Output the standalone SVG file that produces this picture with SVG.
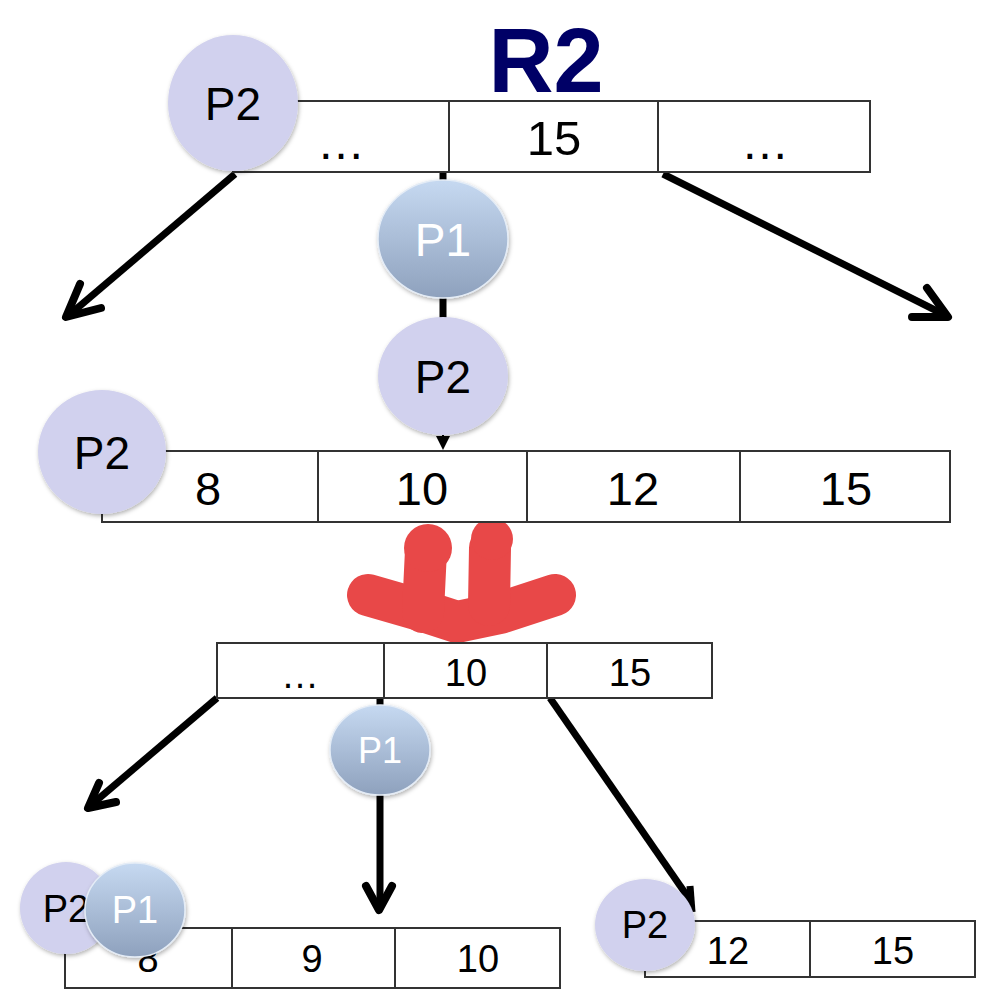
<svg xmlns="http://www.w3.org/2000/svg" width="1000" height="1000" viewBox="0 0 1000 1000">
<defs>
<linearGradient id="gP1" x1="0" y1="0" x2="0" y2="1">
<stop offset="0" stop-color="#c6d9f1"/>
<stop offset="1" stop-color="#8ea1bd"/>
</linearGradient>
<filter id="sh" x="-20%" y="-20%" width="140%" height="140%">
<feDropShadow dx="1" dy="2" stdDeviation="2" flood-color="#000" flood-opacity="0.3"/>
</filter>
</defs>
<style>
.cell{fill:#fff;stroke:#333;stroke-width:2}
.div{stroke:#333;stroke-width:2}
.t{font-family:"Liberation Sans",Arial,sans-serif;text-anchor:middle;fill:#000}
.p2{fill:#d1d1ee;filter:url(#sh)}
.p1{fill:url(#gP1);stroke:#e4ecf6;stroke-width:1.5;filter:url(#sh)}
.pt{font-family:"Liberation Sans",Arial,sans-serif;text-anchor:middle;fill:#000}
.pw{font-family:"Liberation Sans",Arial,sans-serif;text-anchor:middle;fill:#fff}
.ln{stroke:#000;stroke-width:7;fill:none;stroke-linecap:butt}
.hd{stroke:#000;stroke-width:8;fill:none;stroke-linecap:round;stroke-linejoin:round}
</style>

<text x="546" y="92" font-family="Liberation Sans,Arial,sans-serif" text-anchor="middle" font-size="90" font-weight="bold" fill="#000066">R2</text>

<g id="connectors">
<line class="ln" x1="235" y1="174" x2="68" y2="316"/>
<polyline class="hd" points="80,284 66,317 101,308"/>
<line class="ln" x1="663" y1="174" x2="947" y2="316"/>
<polyline class="hd" points="927,288 948,317 912,317"/>
<line class="ln" x1="443" y1="172" x2="443" y2="182"/>
<line class="ln" x1="443" y1="296" x2="443" y2="320"/>
<line stroke="#000" stroke-width="2" x1="443" y1="434" x2="443" y2="440"/>
<polygon points="436,436 450,436 443,450" fill="#000"/>
<line stroke="#333" stroke-width="2" x1="102" y1="510" x2="102" y2="522"/>
<line class="ln" x1="217" y1="698" x2="90" y2="806"/>
<polyline class="hd" points="99,783 88,808 116,802"/>
<line class="ln" x1="380" y1="698" x2="380" y2="707"/>
<line class="ln" x1="380" y1="793" x2="380" y2="908"/>
<polyline class="hd" points="366,886 379,910 392,886"/>
<line class="ln" x1="550" y1="698" x2="690" y2="900"/>
<line class="ln" x1="690" y1="886" x2="692" y2="912"/>
</g>

<g id="scribble">
<g fill="none" stroke="#e84848" stroke-width="42" stroke-linecap="round" stroke-linejoin="round">
<path d="M368,595 L420,610 L457,622 L500,613 L555,595"/>
<path d="M426,550 L423,612"/>
<path d="M490,548 L489,605"/>
</g>
<circle cx="428" cy="548" r="24" fill="#e84848"/>
<circle cx="492" cy="539" r="21" fill="#e84848"/>
</g>

<g id="top-node">
<rect class="cell" x="233" y="101" width="637" height="71"/>
<line class="div" x1="449" y1="101" x2="449" y2="172"/>
<line class="div" x1="658" y1="101" x2="658" y2="172"/>
<text class="t" x="341" y="159" font-size="48">…</text>
<text class="t" x="554" y="155" font-size="49">15</text>
<text class="t" x="765" y="159" font-size="48">…</text>
</g>

<g id="p2-top">
<ellipse class="p2" cx="233" cy="103" rx="65" ry="68"/>
<text class="pt" x="233" y="120" font-size="46">P2</text>
</g>

<g id="p1-mid">
<ellipse class="p1" cx="443" cy="239" rx="65" ry="59"/>
<text class="pw" x="443" y="256" font-size="46">P1</text>
</g>

<g id="p2-mid">
<ellipse class="p2" cx="443" cy="376" rx="65" ry="59"/>
<text class="pt" x="443" y="393" font-size="46">P2</text>
</g>

<g id="leaf-node">
<rect class="cell" x="102" y="451" width="848" height="71"/>
<line class="div" x1="318" y1="451" x2="318" y2="522"/>
<line class="div" x1="527" y1="451" x2="527" y2="522"/>
<line class="div" x1="740" y1="451" x2="740" y2="522"/>
<text class="t" x="208" y="505" font-size="47">8</text>
<text class="t" x="422" y="505" font-size="47">10</text>
<text class="t" x="633" y="505" font-size="47">12</text>
<text class="t" x="846" y="505" font-size="47">15</text>
</g>

<g id="p2-leaf">
<ellipse class="p2" cx="102" cy="452" rx="64" ry="62"/>
<text class="pt" x="102" y="469" font-size="46">P2</text>
</g>

<g id="new-parent">
<rect class="cell" x="217" y="643" width="495" height="55"/>
<line class="div" x1="384" y1="643" x2="384" y2="698"/>
<line class="div" x1="547" y1="643" x2="547" y2="698"/>
<text class="t" x="300" y="688" font-size="38">…</text>
<text class="t" x="466" y="686" font-size="38">10</text>
<text class="t" x="630" y="686" font-size="38">15</text>
</g>

<g id="p1-low">
<ellipse class="p1" cx="380" cy="750" rx="50" ry="45"/>
<text class="pw" x="380" y="763" font-size="36">P1</text>
</g>

<g id="left-leaf">
<rect class="cell" x="65" y="928" width="495" height="60"/>
<line class="div" x1="232" y1="928" x2="232" y2="988"/>
<line class="div" x1="395" y1="928" x2="395" y2="988"/>
<text class="t" x="148" y="972" font-size="38">8</text>
<text class="t" x="312" y="972" font-size="38">9</text>
<text class="t" x="478" y="972" font-size="38">10</text>
</g>

<g id="p2-left">
<ellipse class="p2" cx="66" cy="908" rx="46" ry="46"/>
<text class="pt" x="66" y="922" font-size="38">P2</text>
</g>

<g id="p1-left">
<ellipse class="p1" cx="135" cy="910" rx="50" ry="47"/>
<text class="pw" x="135" y="923" font-size="38">P1</text>
</g>

<g id="right-leaf">
<rect class="cell" x="645" y="921" width="330" height="56"/>
<line class="div" x1="810" y1="921" x2="810" y2="977"/>
<text class="t" x="728" y="964" font-size="38">12</text>
<text class="t" x="893" y="964" font-size="38">15</text>
</g>

<g id="p2-right">
<ellipse class="p2" cx="645" cy="925" rx="50" ry="46"/>
<text class="pt" x="645" y="938" font-size="38">P2</text>
</g>
</svg>
